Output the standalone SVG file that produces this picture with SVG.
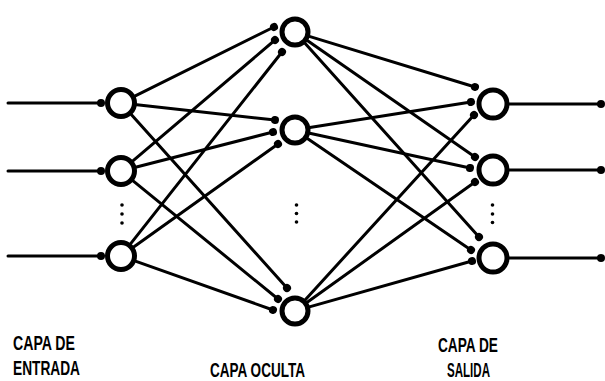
<svg xmlns="http://www.w3.org/2000/svg" width="605" height="381" viewBox="0 0 605 381">
<style>
.e{stroke:#000;stroke-width:3;fill:none;stroke-linecap:round;marker-end:url(#dot)}
.n{fill:#fff;stroke:#000;stroke-width:5}
.d{fill:#000}
.t{font-family:"Liberation Sans",Arial,sans-serif;font-weight:bold;font-size:20px;fill:#000}
</style>
<defs>
<marker id="dot" viewBox="-5 -5 10 10" markerWidth="10" markerHeight="10" markerUnits="userSpaceOnUse" refX="0" refY="0" orient="auto"><circle r="4" fill="#000"/></marker>
</defs>
<rect width="605" height="381" fill="#fff"/>
<g id="connectors">
<line class="e" x1="8" y1="103" x2="101" y2="103"/>
<line class="e" x1="8" y1="171" x2="101" y2="171"/>
<line class="e" x1="8" y1="256" x2="101" y2="256"/>
<line class="e" x1="135.3" y1="95.9" x2="274" y2="27"/>
<line class="e" x1="136.9" y1="104.8" x2="275" y2="120"/>
<line class="e" x1="131.7" y1="114.9" x2="287" y2="288"/>
<line class="e" x1="133.2" y1="160.6" x2="275" y2="40"/>
<line class="e" x1="136.5" y1="167" x2="273" y2="132"/>
<line class="e" x1="133.4" y1="181.1" x2="278" y2="299"/>
<line class="e" x1="130.9" y1="243.4" x2="282" y2="52"/>
<line class="e" x1="134" y1="246.7" x2="278" y2="144"/>
<line class="e" x1="136.1" y1="261.4" x2="273" y2="310"/>
<line class="e" x1="309.3" y1="36.4" x2="475" y2="87"/>
<line class="e" x1="307.3" y1="40.6" x2="475" y2="157"/>
<line class="e" x1="305" y1="43.2" x2="479" y2="237"/>
<line class="e" x1="309.8" y1="127.6" x2="471" y2="102"/>
<line class="e" x1="309.7" y1="133.2" x2="470" y2="168"/>
<line class="e" x1="307.4" y1="138.4" x2="471" y2="250"/>
<line class="e" x1="305.1" y1="299.9" x2="474" y2="115"/>
<line class="e" x1="307.2" y1="302.3" x2="475" y2="182"/>
<line class="e" x1="309.4" y1="306.9" x2="472" y2="261"/>
<line class="e" x1="507" y1="104" x2="601" y2="104"/>
<line class="e" x1="507" y1="170" x2="601" y2="170"/>
<line class="e" x1="507" y1="258" x2="601" y2="258"/>
</g>
<g id="in1"><circle class="n" cx="121" cy="103" r="13.5"/></g>
<g id="in2"><circle class="n" cx="121" cy="171" r="13.5"/></g>
<g id="in3"><circle class="n" cx="121" cy="256" r="13.5"/></g>
<g id="in-dots"><circle class="d" cx="122" cy="205" r="1.8"/><circle class="d" cx="122" cy="214" r="1.8"/><circle class="d" cx="122" cy="223" r="1.8"/></g>
<g id="h1"><circle class="n" cx="295" cy="32" r="13"/></g>
<g id="h2"><circle class="n" cx="295" cy="130" r="13"/></g>
<g id="h3"><circle class="n" cx="295" cy="311" r="13"/></g>
<g id="h-dots"><circle class="d" cx="296.5" cy="205" r="1.8"/><circle class="d" cx="296.5" cy="213.5" r="1.8"/><circle class="d" cx="296.5" cy="222" r="1.8"/></g>
<g id="o1"><circle class="n" cx="493" cy="104" r="14"/></g>
<g id="o2"><circle class="n" cx="493" cy="170" r="14"/></g>
<g id="o3"><circle class="n" cx="493" cy="258" r="14"/></g>
<g id="o-dots"><circle class="d" cx="492.5" cy="205" r="1.8"/><circle class="d" cx="492.5" cy="214" r="1.8"/><circle class="d" cx="492.5" cy="222.5" r="1.8"/></g>
<g id="labels">
<text class="t" x="13" y="350" textLength="62" lengthAdjust="spacingAndGlyphs">CAPA DE</text>
<text class="t" x="13" y="375" textLength="67" lengthAdjust="spacingAndGlyphs">ENTRADA</text>
<text class="t" x="210" y="377" textLength="95" lengthAdjust="spacingAndGlyphs">CAPA OCULTA</text>
<text class="t" x="438" y="352" textLength="60" lengthAdjust="spacingAndGlyphs">CAPA DE</text>
<text class="t" x="447" y="377" textLength="43" lengthAdjust="spacingAndGlyphs">SALIDA</text>
</g>
</svg>
